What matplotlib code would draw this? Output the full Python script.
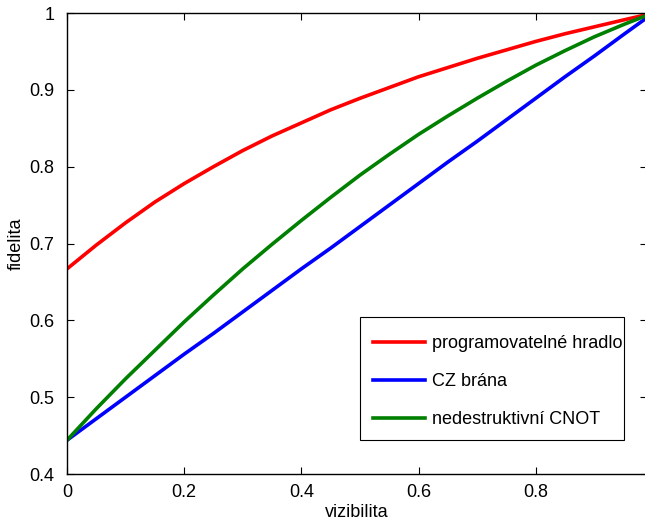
import matplotlib
matplotlib.use("Agg")
import matplotlib.pyplot as plt
from matplotlib.patches import Rectangle

plt.rcParams['font.family'] = ['Liberation Sans', 'DejaVu Sans']

# visibility values and fidelities
vizibilita = [0, 0.05, 0.1, 0.15, 0.2, 0.25, 0.3, 0.35, 0.4, 0.45, 0.5,
              0.55, 0.6, 0.65, 0.7, 0.75, 0.8, 0.85, 0.9, 0.95, 0.99]
hradlo = [0.667, 0.698, 0.727, 0.754, 0.778, 0.800, 0.821, 0.840, 0.857, 0.874, 0.889,
          0.903, 0.917, 0.929, 0.941, 0.952, 0.963, 0.973, 0.982, 0.991, 0.998]
cz = [0.444, 0.472, 0.500, 0.528, 0.556, 0.583, 0.611, 0.639, 0.667, 0.694, 0.722,
      0.750, 0.778, 0.806, 0.833, 0.861, 0.889, 0.917, 0.944, 0.972, 0.994]
cnot = [0.444, 0.485, 0.524, 0.561, 0.598, 0.633, 0.667, 0.699, 0.730, 0.760, 0.789,
        0.816, 0.842, 0.866, 0.889, 0.911, 0.932, 0.951, 0.969, 0.985, 0.997]

labels = ['programovatelné hradlo', 'CZ brána', 'nedestruktivní CNOT']
xticks = [0, 0.2, 0.4, 0.6, 0.8]
xtick_labels = ['0', '0.2', '0.4', '0.6', '0.8']
yticks = [0.4, 0.5, 0.6, 0.7, 0.8, 0.9, 1.0]
ytick_labels = ['0.4', '0.5', '0.6', '0.7', '0.8', '0.9', '1']

fig = plt.figure(figsize=(6.45, 5.19), dpi=100)
ax = fig.add_axes([0.1039, 0.0867, 0.8992, 0.8882])

ax.plot(vizibilita, hradlo, color=(1, 0, 0), lw=2.6, label=labels[0])
ax.plot(vizibilita, cz, color=(0, 0, 1), lw=2.6, label=labels[1])
ax.plot(vizibilita, cnot, color=(0, 0.5, 0), lw=2.6, label=labels[2])

ax.set_xlim(0, 0.99)
ax.set_ylim(0.4, 1.0)
ax.set_xticks(xticks)
ax.set_xticklabels(xtick_labels)
ax.set_yticks(yticks)
ax.set_yticklabels(ytick_labels)
ax.tick_params(direction='in', length=5, width=0.8, top=True, right=True,
               labelsize=13)
ax.tick_params(axis='x', pad=7)
ax.tick_params(axis='y', pad=9)
for s in ax.spines.values():
    s.set_linewidth(1.0)

ax.set_xlabel('vizibilita', fontsize=13, labelpad=2)
ax.set_ylabel('fidelita', fontsize=13, labelpad=3)

# legend box drawn separately so the padding matches the original
ax.add_patch(Rectangle((0.506, 0.0738), 0.454, 0.2668, transform=ax.transAxes,
                       facecolor='white', edgecolor='black', lw=0.8, zorder=4))
leg = ax.legend(loc='upper left', bbox_to_anchor=(0.5268, 0.3005), fontsize=13,
                frameon=False, handlelength=2.9, handletextpad=0.4,
                labelspacing=1.15, borderpad=0, borderaxespad=0)
leg.set_zorder(5)

fig.savefig('out.png', dpi=100)
